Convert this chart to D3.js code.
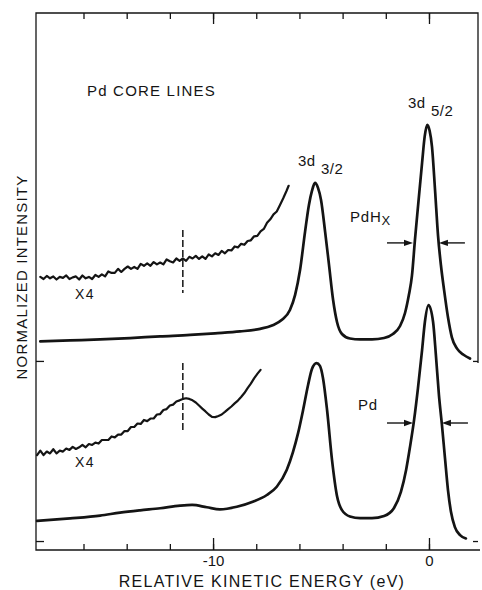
<!DOCTYPE html>
<html>
<head>
<meta charset="utf-8">
<script src="https://cdn.jsdelivr.net/npm/d3@7"></script>
<style>
  body { margin: 0; background: #fff; }
  svg { display: block; background: #fff; }
  text { font-family: "Liberation Sans", Arial, Helvetica, sans-serif; fill: #141414; }
</style>
</head>
<body>
<svg id="chart" width="482" height="590"></svg>
<script>
// Pd 3d core-level photoemission spectra, Pd and PdHx, each normalized to its 3d5/2 peak.
// Energies in eV relative to the 3d5/2 line; intensities normalized (peak = 1).

const energyDomain = [-18.2, 2.27];
const intensityDomain = [-0.038, 2.237];
const xTickValues = [-16, -14, -12, -10, -8, -6, -4, -2, 0];
const xLabelledTicks = [-10, 0];
const xTickLabels = ["-10", "0"];

// vertical offsets of the two spectra (zero levels, marked by ticks)
const pdOffset = 0;
const pdhxOffset = 0.763;

// PdHx spectrum [energy, intensity]
const pdhxSpectrum = [
  [-18.00,0.083],[-16.62,0.087],[-15.23,0.091],[-13.84,0.097],[-12.45,0.104],[-11.06,0.110],
  [-9.91,0.117],[-8.75,0.125],[-7.82,0.136],[-7.27,0.150],[-6.81,0.174],[-6.44,0.216],
  [-6.20,0.280],[-5.97,0.386],[-5.74,0.547],[-5.56,0.661],[-5.42,0.720],[-5.28,0.754],
  [-5.14,0.733],[-5.00,0.682],[-4.81,0.547],[-4.63,0.407],[-4.44,0.258],[-4.26,0.165],
  [-4.03,0.114],[-3.66,0.095],[-3.19,0.091],[-2.64,0.091],[-2.08,0.097],[-1.67,0.114],
  [-1.34,0.148],[-1.11,0.203],[-0.93,0.280],[-0.79,0.360],[-0.65,0.513],[-0.51,0.653],
  [-0.32,0.839],[-0.20,0.950],[-0.08,1.000],[0.03,0.975],[0.14,0.907],[0.28,0.725],
  [0.42,0.530],[0.56,0.400],[0.70,0.300],[0.88,0.185],[1.06,0.100],[1.30,0.052],
  [1.60,0.026],[1.90,0.010]
];

// Pd spectrum [energy, intensity]
const pdSpectrum = [
  [-18.15,0.085],[-16.62,0.096],[-15.23,0.108],[-14.31,0.120],[-13.38,0.130],[-12.45,0.139],
  [-11.53,0.150],[-10.97,0.153],[-10.29,0.143],[-9.68,0.134],[-8.90,0.145],[-8.13,0.167],
  [-7.51,0.195],[-7.05,0.230],[-6.59,0.301],[-6.30,0.377],[-6.06,0.458],[-5.83,0.555],
  [-5.60,0.661],[-5.42,0.729],[-5.21,0.754],[-5.05,0.742],[-4.91,0.691],[-4.72,0.555],
  [-4.49,0.343],[-4.26,0.191],[-4.03,0.131],[-3.66,0.104],[-3.19,0.097],[-2.64,0.097],
  [-2.08,0.106],[-1.62,0.140],[-1.30,0.208],[-1.06,0.301],[-0.88,0.398],[-0.69,0.513],
  [-0.51,0.648],[-0.32,0.809],[-0.19,0.928],[-0.02,1.000],[0.19,0.928],[0.32,0.788],
  [0.46,0.619],[0.60,0.492],[0.74,0.352],[0.88,0.216],[1.02,0.123],[1.20,0.059],
  [1.44,0.025],[1.71,0.011]
];

// loss region of PdHx recorded at four times the gain
const pdhxTimesFour = [
  [-18.00,0.356],[-17.85,0.347],[-17.70,0.360],[-17.55,0.350],[-17.40,0.358],[-17.25,0.345],
  [-17.10,0.356],[-16.95,0.352],[-16.80,0.362],[-16.65,0.347],[-16.50,0.354],[-16.35,0.358],
  [-16.20,0.345],[-16.05,0.362],[-15.90,0.350],[-15.75,0.356],[-15.60,0.347],[-15.45,0.364],
  [-15.30,0.356],[-15.15,0.367],[-15.00,0.358],[-14.85,0.379],[-14.70,0.373],[-14.55,0.373],
  [-14.40,0.390],[-14.25,0.377],[-14.10,0.390],[-13.95,0.400],[-13.80,0.390],[-13.65,0.398],
  [-13.50,0.390],[-13.35,0.411],[-13.20,0.403],[-13.05,0.413],[-12.90,0.403],[-12.75,0.419],
  [-12.60,0.409],[-12.45,0.417],[-12.30,0.409],[-12.15,0.430],[-12.00,0.422],[-11.85,0.417],
  [-11.70,0.434],[-11.55,0.424],[-11.40,0.434],[-11.25,0.424],[-11.10,0.441],[-10.95,0.434],
  [-10.80,0.445],[-10.65,0.432],[-10.50,0.443],[-10.35,0.432],[-10.20,0.451],[-10.05,0.443],
  [-9.90,0.456],[-9.75,0.449],[-9.60,0.466],[-9.45,0.456],[-9.30,0.470],[-9.15,0.468],
  [-9.00,0.485],[-8.85,0.481],[-8.70,0.496],[-8.55,0.492],[-8.40,0.508],[-8.25,0.511],
  [-8.10,0.528],[-7.95,0.530],[-7.80,0.549],[-7.65,0.559],[-7.50,0.585],[-7.35,0.600],
  [-7.20,0.621],[-7.05,0.633],[-6.90,0.661],[-6.75,0.689],[-6.60,0.720],[-6.50,0.742]
];

// loss region of Pd recorded at four times the gain
const pdTimesFour = [
  [-18.15,0.364],[-18.00,0.383],[-17.85,0.364],[-17.70,0.379],[-17.55,0.371],[-17.40,0.389],
  [-17.25,0.371],[-17.10,0.383],[-16.95,0.379],[-16.80,0.392],[-16.65,0.386],[-16.50,0.399],
  [-16.35,0.390],[-16.20,0.397],[-16.05,0.407],[-15.90,0.397],[-15.75,0.411],[-15.60,0.407],
  [-15.45,0.417],[-15.30,0.413],[-15.15,0.428],[-15.00,0.428],[-14.85,0.428],[-14.70,0.443],
  [-14.55,0.439],[-14.40,0.451],[-14.25,0.451],[-14.10,0.466],[-13.95,0.466],[-13.80,0.483],
  [-13.65,0.483],[-13.50,0.498],[-13.35,0.496],[-13.20,0.513],[-13.05,0.508],[-12.90,0.519],
  [-12.75,0.519],[-12.60,0.536],[-12.45,0.538],[-12.30,0.555],[-12.15,0.559],[-12.00,0.574],
  [-11.85,0.578],[-11.70,0.591],[-11.55,0.596],[-11.40,0.602],[-11.25,0.605],[-11.10,0.602],
  [-10.95,0.596],[-10.80,0.587],[-10.65,0.574],[-10.50,0.561],[-10.35,0.549],[-10.20,0.536],
  [-10.05,0.526],[-9.90,0.525],[-9.75,0.530],[-9.60,0.536],[-9.45,0.547],[-9.30,0.559],
  [-9.15,0.570],[-9.00,0.583],[-8.85,0.595],[-8.70,0.610],[-8.55,0.627],[-8.40,0.648],
  [-8.25,0.667],[-8.10,0.689],[-7.95,0.708],[-7.80,0.725]
];

// satellite position (dashed markers) and their intensity spans
const satelliteEnergy = -11.4;
const pdhxSatelliteSpan = [0.288, 0.555];
const pdSatelliteSpan = [0.458, 0.754];

// 3d5/2 full width at half maximum, [left edge, right edge] in eV
const pdhxHalfWidth = [-0.74, 0.46];
const pdHalfWidth = [-0.74, 0.60];
const halfMaximum = 0.5;

const svg = d3.select("#chart");
const x = d3.scaleLinear().domain(energyDomain).range([36, 478]);
const y = d3.scaleLinear().domain(intensityDomain).range([550, 13]);
const ink = "#141414";

// frame (the right edge is drawn down to the PdHx zero level)
const [x0, x1] = x.range();
const [yb, yt] = y.range();
svg.append("path")
  .attr("d", `M${x1},${y(pdhxOffset) + 2}L${x1},${yt}L${x0},${yt}L${x0},${yb}L${x1 + 2},${yb}`)
  .attr("fill", "none").attr("stroke", ink).attr("stroke-width", 1.3);

function styleAxis(g) {
  g.select(".domain").remove();
  g.selectAll(".tick line").attr("stroke", ink).attr("stroke-width", 1.3);
}

// bottom ticks
svg.append("g").attr("transform", `translate(0,${yb})`)
  .call(d3.axisBottom(x).tickValues(xTickValues).tickSize(-6).tickFormat(""))
  .call(styleAxis);
svg.append("g").attr("transform", `translate(0,${yb})`)
  .call(d3.axisBottom(x).tickValues(xLabelledTicks).tickSize(-12).tickPadding(5)
        .tickFormat((d, i) => xTickLabels[i]))
  .call(styleAxis)
  .call(g => g.selectAll("text").attr("font-size", 15).attr("fill", ink)
        .attr("font-family", '"Liberation Sans", Arial, sans-serif'));

// top ticks
svg.append("g").attr("transform", `translate(0,${yt})`)
  .call(d3.axisTop(x).tickValues(xTickValues).tickSize(-6).tickFormat(""))
  .call(styleAxis);
svg.append("g").attr("transform", `translate(0,${yt})`)
  .call(d3.axisTop(x).tickValues(xLabelledTicks).tickSize(-11).tickFormat(""))
  .call(styleAxis);

// zero-level ticks on both sides
svg.append("g").attr("transform", `translate(${x0},0)`)
  .call(d3.axisLeft(y).tickValues([pdOffset, pdhxOffset]).tickSize(-8).tickFormat(""))
  .call(styleAxis);
svg.append("g").attr("transform", `translate(${x1},0)`)
  .call(d3.axisRight(y).tickValues([pdOffset, pdhxOffset]).tickSize(-5).tickFormat(""))
  .call(styleAxis);

// spectra
function drawSpectrum(data, offset, width, curve) {
  const line = d3.line()
    .x(d => x(d[0]))
    .y(d => y(d[1] + offset))
    .curve(curve);
  svg.append("path").datum(data)
    .attr("d", line)
    .attr("fill", "none").attr("stroke", ink)
    .attr("stroke-width", width)
    .attr("stroke-linejoin", "round").attr("stroke-linecap", "round");
}
drawSpectrum(pdhxSpectrum, pdhxOffset, 2.7, d3.curveMonotoneX);
drawSpectrum(pdSpectrum, pdOffset, 2.7, d3.curveMonotoneX);
drawSpectrum(pdhxTimesFour, pdhxOffset, 2.2, d3.curveLinear);
drawSpectrum(pdTimesFour, pdOffset, 2.2, d3.curveLinear);

// dashed satellite markers
[[pdhxSatelliteSpan, pdhxOffset], [pdSatelliteSpan, pdOffset]].forEach(([span, off]) => {
  svg.append("line")
    .attr("x1", x(satelliteEnergy)).attr("x2", x(satelliteEnergy))
    .attr("y1", y(span[1] + off)).attr("y2", y(span[0] + off))
    .attr("stroke", ink).attr("stroke-width", 1.5).attr("stroke-dasharray", "7,3");
});

// half-width arrows
function arrow(tipE, dir, level) {
  const tx = x(tipE), ty = y(level);
  const shaft = 26, head = 9, half = 3.2;
  svg.append("line")
    .attr("x1", tx - dir * shaft).attr("x2", tx - dir * head * 0.6)
    .attr("y1", ty).attr("y2", ty)
    .attr("stroke", ink).attr("stroke-width", 1.4);
  svg.append("path")
    .attr("d", `M${tx},${ty}L${tx - dir * head},${ty - half}L${tx - dir * head},${ty + half}Z`)
    .attr("fill", ink);
}
arrow(pdhxHalfWidth[0], 1, halfMaximum + pdhxOffset);
arrow(pdhxHalfWidth[1], -1, halfMaximum + pdhxOffset);
arrow(pdHalfWidth[0], 1, halfMaximum + pdOffset);
arrow(pdHalfWidth[1], -1, halfMaximum + pdOffset);

// text
function label(px, py, str, size, spacing) {
  return svg.append("text").attr("x", px).attr("y", py)
    .attr("font-size", size).attr("letter-spacing", spacing || 0).text(str);
}
label(87, 96, "Pd CORE LINES", 15, 1.2);

label(408, 108, "3d", 15, 0.5);
label(431, 116, "5/2", 15, 0.5);
label(298, 166, "3d", 15, 0.5);
label(321, 174, "3/2", 15, 0.5);

const pdhxText = label(350, 222, "PdH", 15, 0.8);
pdhxText.append("tspan").attr("font-size", 13).attr("dy", 3).text("X");
label(358, 410, "Pd", 15, 0.8);

label(75, 299, "X4", 14, 1.5);
label(75, 467, "X4", 14, 1.5);

svg.append("text")
  .attr("transform", "translate(27,277) rotate(-90)")
  .attr("text-anchor", "middle").attr("font-size", 15).attr("letter-spacing", 1.2)
  .text("NORMALIZED INTENSITY");

svg.append("text")
  .attr("x", 262).attr("y", 587)
  .attr("text-anchor", "middle").attr("font-size", 16).attr("letter-spacing", 1.3)
  .text("RELATIVE KINETIC ENERGY (eV)");
</script>
</body>
</html>
